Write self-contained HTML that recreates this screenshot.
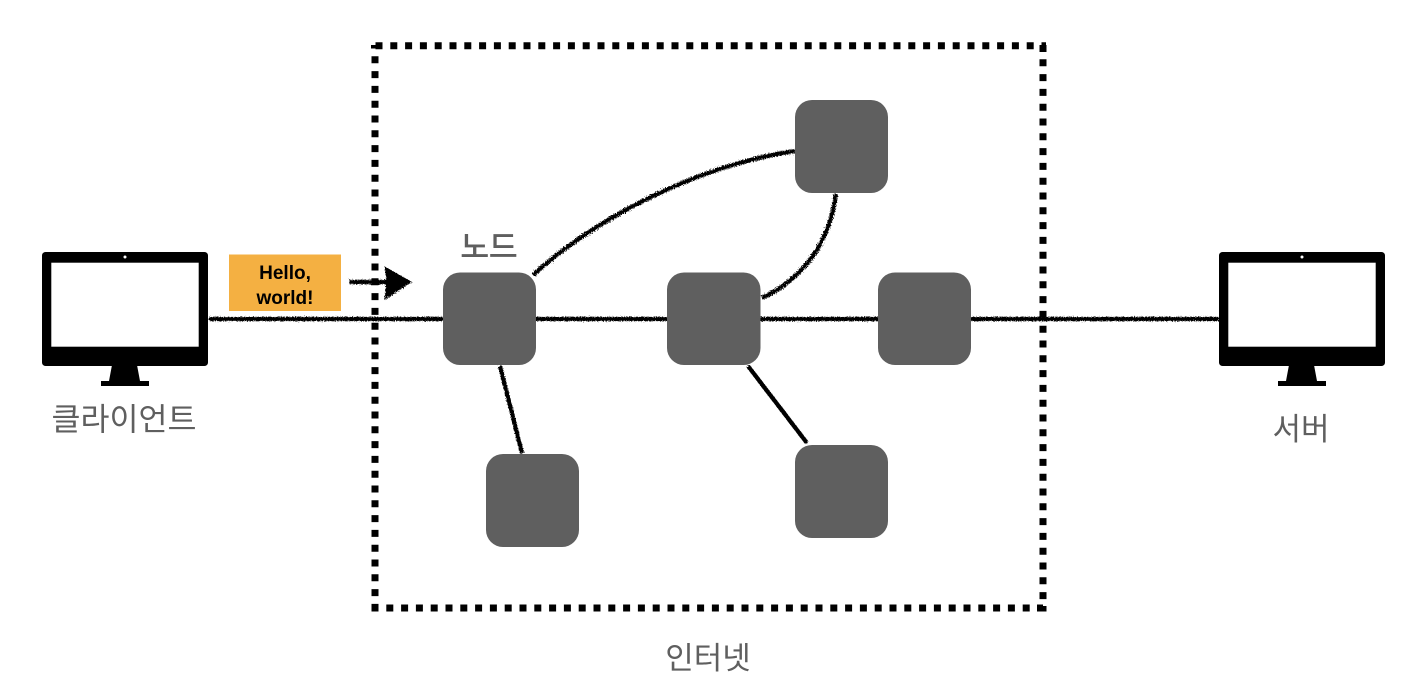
<!DOCTYPE html>
<html lang="ko">
<head>
<meta charset="utf-8">
<style>
html,body{margin:0;padding:0;background:#fff;width:1428px;height:678px;overflow:hidden}
svg{display:block}
text{font-family:"Liberation Sans","Noto Sans CJK KR",sans-serif}
</style>
</head>
<body>
<svg width="1428" height="678" viewBox="0 0 1428 678" xmlns="http://www.w3.org/2000/svg">
<defs>
<filter id="rough" x="0" y="0" width="1428" height="678" filterUnits="userSpaceOnUse">
<feTurbulence type="fractalNoise" baseFrequency="0.9" numOctaves="2" seed="4"/>
<feDisplacementMap in="SourceGraphic" scale="3.800"/>
</filter>
</defs>

<!-- dotted internet boundary -->
<g stroke="#000" stroke-width="7" fill="none" stroke-dasharray="7 7.800">
<path d="M375.500 45.800H1046"/>
<path d="M375 56.300V612"/>
<path d="M1043 59.300V600"/>
<path d="M371.500 608H1030"/>
</g>
<g fill="#000">
<rect x="371" y="45" width="5" height="3.500"/>
<rect x="1039.500" y="45" width="7" height="7"/>
<rect x="1037" y="604.500" width="6" height="7"/>
<rect x="1040" y="606" width="6.500" height="5.500"/>
</g>

<!-- connectors -->
<g stroke="#000" fill="none" filter="url(#rough)">
<path d="M209 319H1219" stroke-width="4.300"/>
<path d="M533 275C600 215 700 165 795 151" stroke-width="4.300"/>
<path d="M762 298C805 278 830 240 836 194" stroke-width="4.300"/>
<path d="M500 366L522 453" stroke-width="4.300"/>
<path d="M748 366L807 443" stroke-width="4.300"/>
<path d="M349 282H388" stroke-width="4.500"/>
<path d="M387 270L408 282L387 296Q389 283 387 270Z" fill="#000" stroke-width="4"/>
</g>

<!-- nodes -->
<g fill="#5f5f5f">
<rect x="443" y="272.500" width="93" height="92.500" rx="17"/>
<rect x="667" y="272.500" width="93.500" height="92.500" rx="17"/>
<rect x="878" y="272.500" width="93" height="92.500" rx="17"/>
<rect x="795" y="100" width="93" height="93" rx="17"/>
<rect x="486" y="454" width="93" height="93" rx="17"/>
<rect x="795" y="445" width="93" height="93" rx="17"/>
</g>

<!-- client monitor -->
<g>
<rect x="42" y="252" width="166" height="114" rx="3.500" fill="#000"/>
<rect x="51.300" y="262.700" width="147.400" height="84" fill="#fff"/>
<circle cx="125" cy="257" r="1.500" fill="#fff"/>
<path d="M112 365H137L140 381H149V386H101V381H109Z" fill="#000"/>
</g>
<!-- server monitor -->
<g transform="translate(1177 0)">
<rect x="42" y="252" width="166" height="114" rx="3.500" fill="#000"/>
<rect x="51.300" y="262.700" width="147.400" height="84" fill="#fff"/>
<circle cx="125" cy="257" r="1.500" fill="#fff"/>
<path d="M112 365H137L140 381H149V386H101V381H109Z" fill="#000"/>
</g>

<!-- message -->
<rect x="229" y="254.500" width="112" height="56.500" fill="#f4b042"/>
<text x="285" y="279" font-size="19" font-weight="700" text-anchor="middle" fill="#000">Hello,</text>
<text x="285" y="304" font-size="19" font-weight="700" text-anchor="middle" fill="#000">world!</text>

<!-- labels -->
<g fill="#5f5f5f" text-anchor="middle">
<text x="124" y="430" font-size="31.500">클라이언트</text>
<text x="1301" y="440" font-size="31">서버</text>
<text x="489" y="258" font-size="31" stroke="#5f5f5f" stroke-width="0.700">노드</text>
<text x="708" y="669" font-size="31">인터넷</text>
</g>
</svg>
</body>
</html>
